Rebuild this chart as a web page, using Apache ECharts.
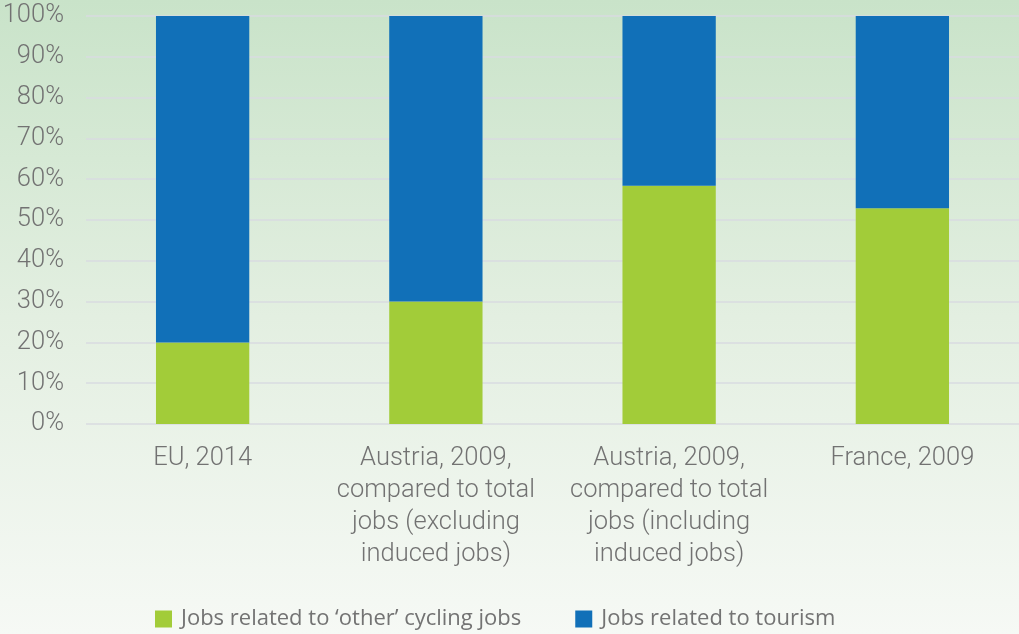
<!DOCTYPE html>
<html><head><meta charset="utf-8">
<script src="https://cdn.jsdelivr.net/npm/echarts@6/dist/echarts.min.js"></script>
<style>
html,body{margin:0;padding:0;}
#c{width:1019px;height:634px;background:linear-gradient(to bottom,#c9e3c9 0%,#e3efe1 50%,#f6f9f5 100%);}
</style></head><body>
<div id="c"></div>
<script>
const categories = ['EU, 2014','Austria, 2009,\ncompared to total\njobs (excluding\ninduced jobs)','Austria, 2009,\ncompared to total\njobs (including\ninduced jobs)','France, 2009'];
const otherCycling = [20, 30, 58.4, 52.9];
const tourism = [80, 70, 41.6, 47.1];
const seriesNames = ['Jobs related to \u2018other\u2019 cycling jobs','Jobs related to tourism'];

const chart = echarts.init(document.getElementById('c'), null, {renderer:'canvas'});
chart.setOption({
  animation:false,
  grid:{left:86,right:0,top:16,bottom:210,outerBoundsMode:'none',containLabel:false},
  legend:{
    left:150, top:603, itemWidth:17, itemHeight:17, itemGap:54,
    icon:'rect',
    textStyle:{fontFamily:'Open Sans',fontSize:22,color:'#737373',padding:[0,0,0,4]},
    data:seriesNames
  },
  xAxis:{
    type:'category', data:categories,
    axisLine:{show:false}, axisTick:{show:false},
    axisLabel:{fontFamily:'Roboto',fontWeight:300,fontSize:25.5,color:'#727272',lineHeight:32,margin:19,interval:0}
  },
  yAxis:{
    type:'value', min:0, max:100, interval:10,
    axisLabel:{formatter:'{value}%',fontFamily:'Roboto',fontWeight:300,fontSize:25.5,color:'#727272',margin:22},
    splitLine:{lineStyle:{color:'#d9dbe0',width:1.5}},
    axisLine:{show:false}, axisTick:{show:false}
  },
  series:[
    {name:seriesNames[0],type:'bar',stack:'s',data:otherCycling,barWidth:'40%',itemStyle:{color:'#a2cc39'}},
    {name:seriesNames[1],type:'bar',stack:'s',data:tourism,barWidth:'40%',itemStyle:{color:'#1170b8'}}
  ]
});
</script>
</body></html>
